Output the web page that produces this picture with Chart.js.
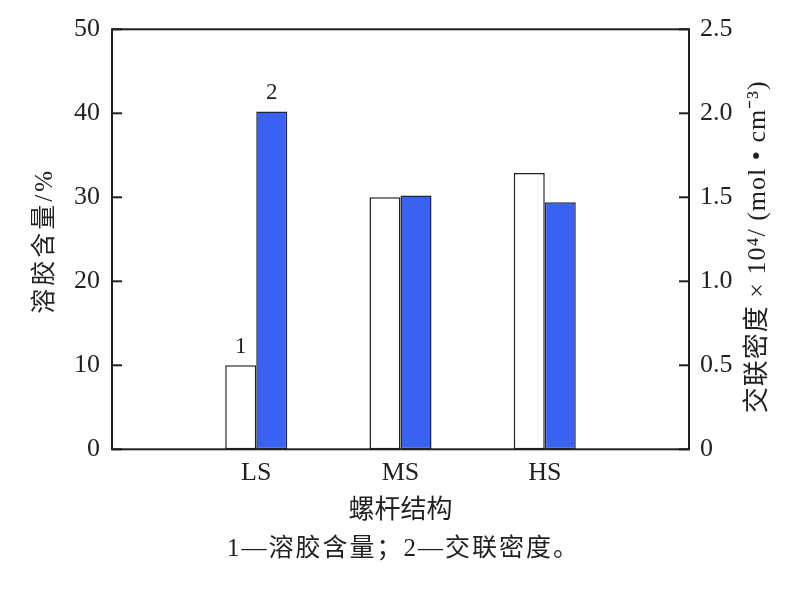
<!DOCTYPE html>
<html>
<head>
<meta charset="utf-8">
<script src="https://cdn.jsdelivr.net/npm/chart.js@4/dist/chart.umd.min.js"></script>
<style>
  html, body { margin: 0; padding: 0; background: #fff; }
  #wrap { width: 800px; height: 590px; }
</style>
</head>
<body>
<div id="wrap"><canvas id="c" width="800" height="590"></canvas></div>
<script>
// ---- data ----
const categories = ['LS', 'MS', 'HS'];
const solContent = [10, 30, 32.9];          // 溶胶含量 / %
const crosslinkDensity = [2.01, 1.51, 1.47]; // 交联密度 ×10^4 / (mol·cm^-3)
const leftTicks = ['0', '10', '20', '30', '40', '50'];
const rightTicks = ['0', '0.5', '1.0', '1.5', '2.0', '2.5'];
const seriesMarks = ['1', '2'];
const xTitle = '螺杆结构';
const leftTitle = '溶胶含量/%';
const rightTitle = '交联密度 × 10⁴/ (mol • cm⁻³)';
const caption = '1—溶胶含量；2—交联密度。';

const FONT = "'Liberation Serif', 'Noto Sans CJK SC', serif";
const TEXT = '#231f20';
const LINE = '#231f20';

const labels = [''].concat(categories, ['']);
const pad = arr => [null].concat(arr, [null]);

function rotatedText(ctx, text, x, y, size, spacing) {
  ctx.save();
  ctx.font = size + 'px ' + FONT;
  if ('letterSpacing' in ctx) ctx.letterSpacing = spacing + 'px';
  ctx.fillStyle = TEXT;
  ctx.textAlign = 'center';
  ctx.textBaseline = 'middle';
  ctx.translate(x, y);
  ctx.rotate(-Math.PI / 2);
  ctx.fillText(text, 0, 0);
  ctx.restore();
}

const framePlugin = {
  id: 'frame',
  afterDatasetsDraw(chart) {
    const { ctx, chartArea: a } = chart;
    ctx.save();
    ctx.strokeStyle = LINE;
    ctx.lineWidth = 2;
    const yl = chart.scales.yL, yr = chart.scales.yR;
    yl.ticks.forEach((t, i) => {
      const y = yl.getPixelForTick(i);
      ctx.beginPath(); ctx.moveTo(a.left, y); ctx.lineTo(a.left + 10, y); ctx.stroke();
    });
    yr.ticks.forEach((t, i) => {
      const y = yr.getPixelForTick(i);
      ctx.beginPath(); ctx.moveTo(a.right, y); ctx.lineTo(a.right - 10, y); ctx.stroke();
    });
    ctx.strokeRect(a.left, a.top, a.right - a.left, a.bottom - a.top);
    // series marks above LS bars
    ctx.fillStyle = TEXT;
    ctx.font = '23px ' + FONT;
    ctx.textAlign = 'center';
    ctx.textBaseline = 'bottom';
    chart.data.datasets.forEach((ds, i) => {
      const el = chart.getDatasetMeta(i).data[1];
      ctx.fillText(seriesMarks[i], el.x, el.y - 7);
    });
    ctx.restore();
  },
  afterDraw(chart) {
    const { ctx, chartArea: a } = chart;
    const yl = chart.scales.yL, yr = chart.scales.yR, x = chart.scales.x;
    const mid = (a.top + a.bottom) / 2;
    rotatedText(ctx, leftTitle, yl.left + 45, mid + 1.5, 25, 3);
    rotatedText(ctx, rightTitle, yr.right - 42, mid + 7.5, 26, 1);
    // caption
    ctx.save();
    ctx.font = '25px ' + FONT;
    if ('letterSpacing' in ctx) ctx.letterSpacing = '2px';
    ctx.fillStyle = TEXT;
    ctx.textAlign = 'center';
    ctx.textBaseline = 'middle';
    ctx.fillText(caption, (x.left + x.right) / 2 + 3, x.bottom + 14.4);
    ctx.restore();
  }
};

new Chart(document.getElementById('c'), {
  type: 'bar',
  data: {
    labels: labels,
    datasets: [
      {
        label: '溶胶含量',
        data: pad(solContent),
        yAxisID: 'yL',
        backgroundColor: '#ffffff',
        borderColor: LINE,
        borderWidth: 1.5,
        borderSkipped: false
      },
      {
        label: '交联密度',
        data: pad(crosslinkDensity),
        yAxisID: 'yR',
        backgroundColor: '#3962f2',
        borderColor: '#1f2440',
        borderWidth: 1.5,
        borderSkipped: false
      }
    ]
  },
  options: {
    responsive: false,
    animation: false,
    categoryPercentage: 0.43,
    barPercentage: 1.0,
    layout: { padding: { left: 0, right: 0, top: 29.3, bottom: 54.9 } },
    plugins: {
      legend: { display: false },
      tooltip: { enabled: false },
      title: { display: false }
    },
    scales: {
      x: {
        type: 'category',
        offset: false,
        grid: { display: false, drawTicks: false },
        border: { display: false },
        ticks: {
          color: TEXT,
          font: { family: FONT, size: 26 },
          padding: 8,
          maxRotation: 0,
          autoSkip: false
        },
        title: {
          display: true,
          text: xTitle,
          color: TEXT,
          font: { family: FONT, size: 26, lineHeight: 1.2 },
          padding: { top: 0, bottom: 8 }
        },
        afterFit(s) { s.height = 85.8; }
      },
      yL: {
        position: 'left',
        min: 0, max: 50,
        grid: { display: false, drawTicks: false },
        border: { display: false },
        ticks: {
          stepSize: 10,
          color: TEXT,
          font: { family: FONT, size: 26 },
          padding: 12,
          callback: (v, i) => leftTicks[i]
        },
        afterFit(s) { s.width = 112; }
      },
      yR: {
        position: 'right',
        min: 0, max: 2.5,
        grid: { display: false, drawTicks: false },
        border: { display: false },
        ticks: {
          stepSize: 0.5,
          color: TEXT,
          font: { family: FONT, size: 26 },
          padding: 11,
          callback: (v, i) => rightTicks[i]
        },
        afterFit(s) { s.width = 111; }
      }
    }
  },
  plugins: [framePlugin]
});
</script>
</body>
</html>
